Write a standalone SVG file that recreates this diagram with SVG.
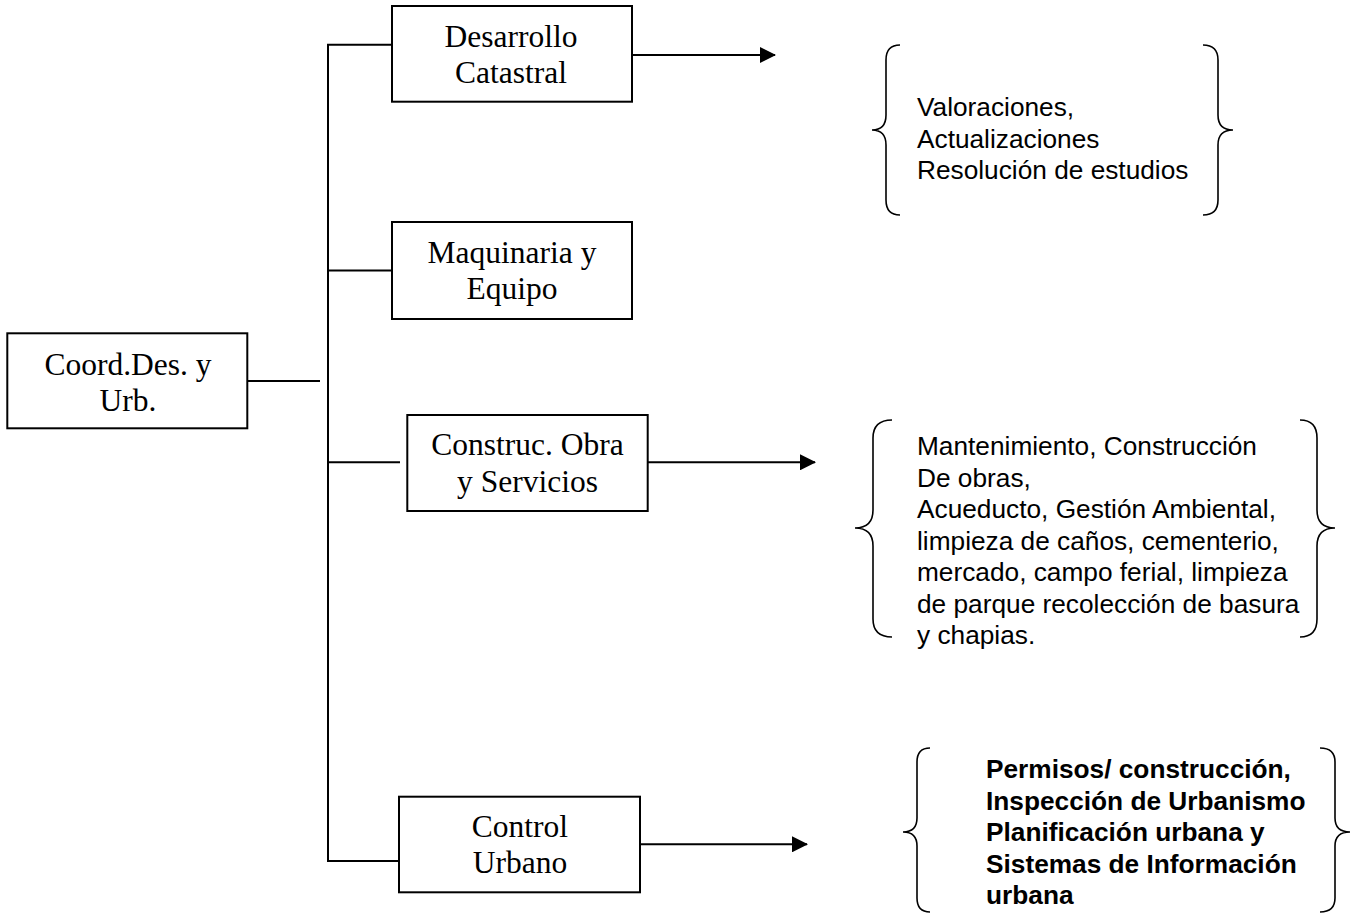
<svg xmlns="http://www.w3.org/2000/svg" width="1366" height="916" viewBox="0 0 1366 916">
<defs>
<style>
.box{fill:#fff;stroke:#000;stroke-width:2}
.ln{fill:none;stroke:#000;stroke-width:2}
.br{fill:none;stroke:#000;stroke-width:1.6}
.t{font-family:"Liberation Serif","Times New Roman",serif;font-size:31.5px;fill:#000;text-anchor:middle}
.a{font-family:"Liberation Sans",Arial,sans-serif;font-size:26.25px;fill:#000}
.b{font-family:"Liberation Sans",Arial,sans-serif;font-size:26.25px;font-weight:bold;fill:#000}
</style>
<marker id="arr" viewBox="0 0 16 16" refX="15" refY="8" markerWidth="16" markerHeight="16" markerUnits="userSpaceOnUse" orient="auto">
<path d="M0,0 L16,8 L0,16 Z" fill="#000"/>
</marker>
</defs>
<rect width="1366" height="916" fill="#fff"/>
<g id="connectors">
<line class="ln" x1="247" y1="381" x2="320" y2="381"/>
<line class="ln" x1="328" y1="44.7" x2="328" y2="861"/>
<line class="ln" x1="327" y1="44.7" x2="392" y2="44.7"/>
<line class="ln" x1="327" y1="270.5" x2="392" y2="270.5"/>
<line class="ln" x1="327" y1="462.3" x2="400" y2="462.3"/>
<line class="ln" x1="327" y1="861" x2="399" y2="861"/>
<line class="ln" x1="632" y1="55" x2="775" y2="55" marker-end="url(#arr)"/>
<line class="ln" x1="648" y1="462.3" x2="815" y2="462.3" marker-end="url(#arr)"/>
<line class="ln" x1="640" y1="844.3" x2="807" y2="844.3" marker-end="url(#arr)"/>
</g>
<g id="coord">
<rect class="box" x="7.3" y="333.3" width="240" height="95"/>
<text class="t" x="128" y="375">Coord.Des. y</text>
<text class="t" x="128" y="410.7">Urb.</text>
</g>
<g id="desarrollo">
<rect class="box" x="392" y="6" width="240" height="95.7"/>
<text class="t" x="511" y="46.7">Desarrollo</text>
<text class="t" x="511" y="83.3">Catastral</text>
</g>
<g id="maquinaria">
<rect class="box" x="392" y="222" width="240" height="97"/>
<text class="t" x="512" y="263">Maquinaria y</text>
<text class="t" x="512" y="299">Equipo</text>
</g>
<g id="construc">
<rect class="box" x="407.3" y="415" width="240.4" height="96"/>
<text class="t" x="527.5" y="455">Construc. Obra</text>
<text class="t" x="527.5" y="492">y Servicios</text>
</g>
<g id="control">
<rect class="box" x="399" y="796.7" width="241" height="95.6"/>
<text class="t" x="520" y="836.7">Control</text>
<text class="t" x="520" y="873.3">Urbano</text>
</g>
<g id="catastral-tasks">
<path class="br" d="M900,45 Q886,45 886,60 L886,115 Q886,130 872,130 Q886,130 886,145 L886,200 Q886,215 900,215"/>
<path class="br" d="M1203,45 Q1218,45 1218,60 L1218,115 Q1218,130 1233,130 Q1218,130 1218,145 L1218,200 Q1218,215 1203,215"/>
<text class="a" x="917" y="116">Valoraciones,</text>
<text class="a" x="917" y="147.5">Actualizaciones</text>
<text class="a" x="917" y="179">Resolución de estudios</text>
</g>
<g id="obras-tasks">
<path class="br" d="M892,420 Q873,420 873,438 L873,510 Q873,528 855,528 Q873,528 873,546 L873,619 Q873,637 892,637"/>
<path class="br" d="M1300,420 Q1317,420 1317,438 L1317,510 Q1317,528 1335,528 Q1317,528 1317,546 L1317,619 Q1317,637 1300,637"/>
<text class="a" x="917" y="455">Mantenimiento, Construcción</text>
<text class="a" x="917" y="486.5">De obras,</text>
<text class="a" x="917" y="518">Acueducto, Gestión Ambiental,</text>
<text class="a" x="917" y="549.5">limpieza de caños, cementerio,</text>
<text class="a" x="917" y="581">mercado, campo ferial, limpieza</text>
<text class="a" x="917" y="612.5">de parque recolección de basura</text>
<text class="a" x="917" y="644">y chapias.</text>
</g>
<g id="urbano-tasks">
<path class="br" d="M930,748 Q917,748 917,762 L917,818 Q917,832 903,832 Q917,832 917,846 L917,898 Q917,912 930,912"/>
<path class="br" d="M1320,748 Q1335,748 1335,762 L1335,818 Q1335,832 1350,832 Q1335,832 1335,846 L1335,898 Q1335,912 1320,912"/>
<text class="b" x="986" y="778">Permisos/ construcción,</text>
<text class="b" x="986" y="809.5">Inspección de Urbanismo</text>
<text class="b" x="986" y="841">Planificación urbana y</text>
<text class="b" x="986" y="872.5">Sistemas de Información</text>
<text class="b" x="986" y="904">urbana</text>
</g>
</svg>
